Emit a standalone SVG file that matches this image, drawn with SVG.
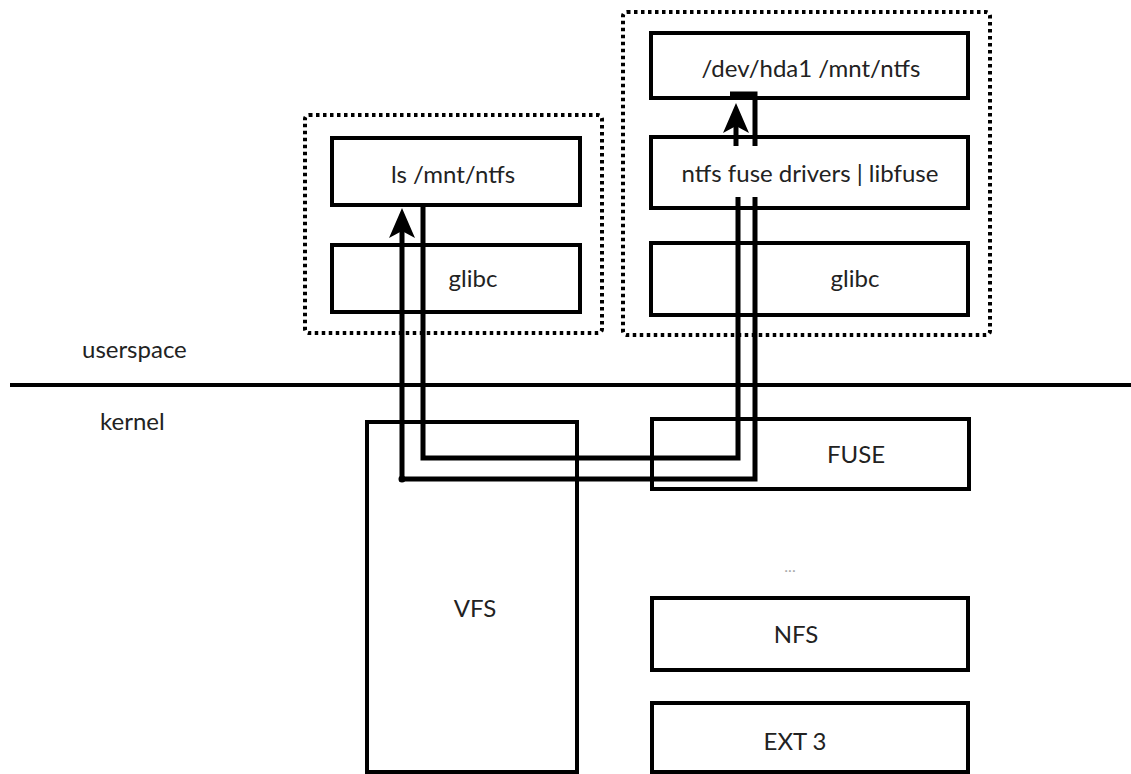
<svg xmlns="http://www.w3.org/2000/svg" width="1131" height="774" viewBox="0 0 1131 774">
<style>
.box{fill:#fff;stroke:#000;stroke-width:4}
.group{fill:none;stroke:#000;stroke-width:4;stroke-dasharray:3.5 3.5}
.lbl{font-family:Lato,"Liberation Sans",sans-serif;font-size:24px;fill:#222;text-anchor:middle}
.side{font-family:Lato,"Liberation Sans",sans-serif;font-size:24px;fill:#222}
.wire{fill:none;stroke:#000;stroke-width:5;stroke-linejoin:miter}
</style>
<defs>
<marker id="arr" markerUnits="userSpaceOnUse" markerWidth="32" markerHeight="30" viewBox="0 -15 32 30" refX="15" refY="0" orient="auto" overflow="visible">
<path d="M30,0 L0,-13 L7,0 L0,13 Z" fill="#000"/>
</marker>
</defs>
<rect width="1131" height="774" fill="#fff"/>

<g id="divider">
<line x1="10" y1="385" x2="1131" y2="385" stroke="#000" stroke-width="4"/>
<text class="side" x="82" y="358">userspace</text>
<text class="side" x="100" y="430">kernel</text>
</g>

<g id="left-process">
<rect class="group" x="305" y="115" width="297" height="218" rx="4"/>
</g>
<g id="ls">
<rect class="box" x="332" y="138" width="248" height="67"/>
<text class="lbl" x="453" y="183">ls /mnt/ntfs</text>
</g>
<g id="glibc-left">
<rect class="box" x="332" y="245" width="248" height="67"/>
<text class="lbl" x="473" y="287">glibc</text>
</g>

<g id="right-process">
<rect class="group" x="623" y="12" width="367" height="323" rx="4"/>
</g>
<g id="mount">
<rect class="box" x="651" y="33" width="317" height="65"/>
<text class="lbl" x="811" y="77">/dev/hda1 /mnt/ntfs</text>
</g>
<g id="ntfs-fuse">
<rect class="box" x="651" y="137" width="317" height="71"/>
<text class="lbl" x="810" y="182">ntfs fuse drivers | libfuse</text>
</g>
<g id="glibc-right">
<rect class="box" x="651" y="243" width="317" height="72"/>
<text class="lbl" x="855" y="287">glibc</text>
</g>

<g id="vfs">
<rect class="box" x="367" y="422" width="210" height="350"/>
<text class="lbl" x="475" y="617">VFS</text>
</g>
<g id="fuse">
<rect class="box" x="652" y="419" width="317" height="70"/>
<text class="lbl" x="856" y="463">FUSE</text>
</g>
<g id="ellipsis">
<text class="lbl" x="790" y="572" style="font-size:16px;fill:#aaa">...</text>
</g>
<g id="nfs">
<rect class="box" x="652" y="598" width="316" height="72"/>
<text class="lbl" x="796" y="643">NFS</text>
</g>
<g id="ext3">
<rect class="box" x="652" y="703" width="316" height="69"/>
<text class="lbl" x="795" y="750">EXT 3</text>
</g>

<g id="connectors">
<path class="wire" d="M423,205 V458 H738 V197"/>
<path class="wire" d="M755,197 V479 H402 V223" marker-end="url(#arr)"/>
<circle cx="402" cy="479" r="3.5" fill="#000"/>
<path class="wire" d="M736,146 V118" marker-end="url(#arr)"/>
<path class="wire" d="M755,146 V94 H730"/>
</g>
</svg>
